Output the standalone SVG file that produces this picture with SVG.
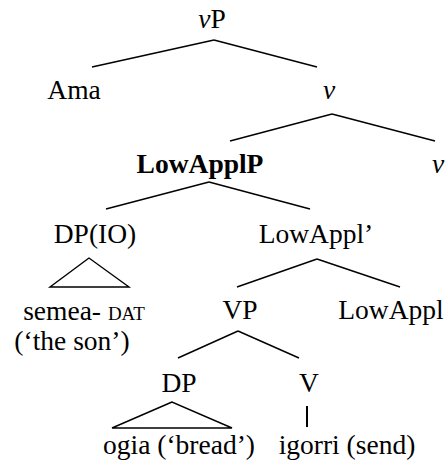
<svg xmlns="http://www.w3.org/2000/svg" width="445" height="470" viewBox="0 0 445 470" font-family="'Liberation Serif', serif">
<style>
text{font-family:'Liberation Serif',serif;font-size:27.5px;fill:#000;text-anchor:middle}
.b{font-weight:bold}
.i{font-style:italic}
.sc{font-size:19px}
#edges line,#edges polygon{stroke:#000;stroke-width:1.4;fill:none}
#edges .bar{stroke-width:2}
</style>
<rect width="445" height="470" fill="#fff"/>
<g id="edges">
<line x1="214" y1="40" x2="92" y2="67"/>
<line x1="214" y1="40" x2="317" y2="67"/>
<line x1="332" y1="114" x2="230" y2="141"/>
<line x1="332" y1="114" x2="435" y2="141"/>
<line x1="209" y1="182" x2="106" y2="209"/>
<line x1="209" y1="182" x2="310" y2="209"/>
<polygon points="89,258 50,287 129,287"/>
<line x1="317" y1="259" x2="237" y2="287"/>
<line x1="317" y1="259" x2="400" y2="287"/>
<line x1="238" y1="331" x2="178" y2="358"/>
<line x1="238" y1="331" x2="299" y2="358"/>
<polygon points="172,402 112,428 232,428"/>
<line class="bar" x1="307" y1="406" x2="307" y2="427"/>
</g>
<g id="vP"><text x="212" y="28"><tspan class="i">v</tspan>P</text></g>
<g id="Ama"><text x="74" y="99">Ama</text></g>
<g id="v1"><text x="329" y="99" class="i">v</text></g>
<g id="LowApplP"><text x="200" y="173" class="b">LowApplP</text></g>
<g id="v2"><text x="438" y="173" class="i">v</text></g>
<g id="DPIO"><text x="95" y="243">DP(IO)</text></g>
<g id="LowApplBar"><text x="316" y="243">LowAppl’</text></g>
<g id="semea"><text x="84" y="320">semea- <tspan class="sc">DAT</tspan></text><text x="72" y="350">(‘the son’)</text></g>
<g id="VP"><text x="240" y="319">VP</text></g>
<g id="LowAppl"><text x="391" y="319">LowAppl</text></g>
<g id="DP"><text x="179" y="392">DP</text></g>
<g id="V"><text x="309" y="392">V</text></g>
<g id="ogia"><text x="179" y="454">ogia (‘bread’)</text></g>
<g id="igorri"><text x="347" y="454">igorri (send)</text></g>
</svg>
